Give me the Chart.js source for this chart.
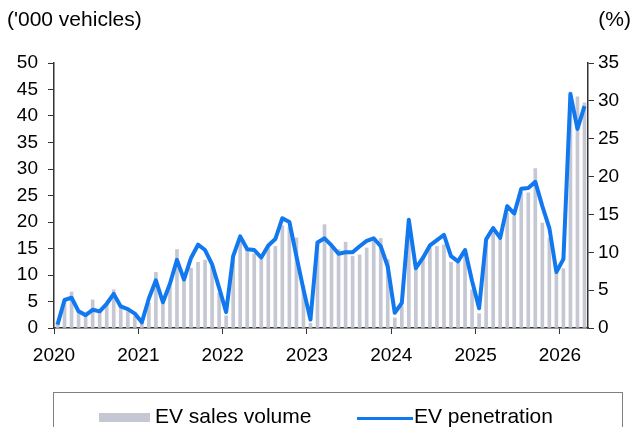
<!DOCTYPE html>
<html>
<head>
<meta charset="utf-8">
<script src="https://cdn.jsdelivr.net/npm/chart.js@4.4.0/dist/chart.umd.min.js"></script>
<style>
  body { margin: 0; overflow: hidden; background: #fff; }
  #wrap { position: relative; width: 634px; height: 427px; }
  #legend { position: absolute; left: 53px; top: 392px; width: 568px; height: 60px;
            border: 1px solid #808080; font: 21px "Liberation Sans", Arial, sans-serif; color: #000; }
  #legend span { position: absolute; }
</style>
</head>
<body>
<div id="wrap">
  <canvas id="evChart" width="634" height="427"></canvas>
  <div id="legend">
    <span style="left:45px; top:20px; width:51px; height:9px; background:#c5c7d3"></span>
    <span style="left:101px; top:11px;">EV sales volume</span>
    <span style="left:303px; top:24px; width:56px; height:3px; background:#1178ef"></span>
    <span style="left:360px; top:11px;">EV penetration</span>
  </div>
</div>
<script>
let CHART = document.getElementById("evChart");

// year labels, one tick every 12 months starting Jan 2020
let yearTicks = ['2020', '2021', '2022', '2023', '2024', '2025', '2026'];

// monthly EV sales ('000 vehicles), Jan 2020 - Apr 2026
let salesVolume = [
    1.0, 5.3, 6.8, 3.1, 2.5, 5.3, 3.3, 4.6, 7.2, 3.8, 3.1, 2.2,
    0.9, 4.7, 10.5, 4.7, 7.9, 14.8, 9.4, 11.3, 12.4, 12.8, 11.6, 6.6,
    2.3, 12.9, 16.5, 14.8, 14.0, 12.9, 15.4, 15.4, 19.3, 19.0, 17.0, 8.0,
    0.9, 15.7, 19.5, 15.7, 14.8, 16.2, 13.5, 13.8, 15.1, 16.7, 16.9, 12.9,
    1.9, 4.1, 17.3, 11.6, 13.2, 15.1, 15.4, 15.7, 12.4, 12.3, 14.2, 7.2,
    2.7, 16.0, 18.0, 16.8, 21.7, 21.1, 25.6, 25.5, 30.1, 19.8, 17.0, 10.4,
    11.2, 44.5, 43.6, 42.5
];

// EV penetration (%)
let penetration = [
    0.45, 3.7, 4.0, 2.2, 1.7, 2.4, 2.2, 3.2, 4.5, 2.85, 2.5, 1.9,
    0.75, 3.9, 6.3, 3.4, 5.85, 9.0, 6.4, 9.25, 11.0, 10.3, 8.4, 5.3,
    2.1, 9.5, 12.1, 10.4, 10.3, 9.3, 10.9, 11.75, 14.5, 14.0, 9.5, 5.1,
    1.1, 11.3, 11.85, 10.9, 9.8, 10.0, 10.0, 10.8, 11.5, 11.85, 10.8, 8.1,
    2.0, 3.3, 14.3, 7.9, 9.25, 10.9, 11.6, 12.3, 9.5, 8.8, 10.3, 6.2,
    2.6, 11.7, 13.2, 11.9, 16.1, 15.1, 18.4, 18.5, 19.3, 16.1, 13.2, 7.4,
    9.1, 30.9, 26.3, 29.3
];

let FONT = '"Liberation Sans", Arial, sans-serif';
Chart.defaults.font.family = FONT;
Chart.defaults.font.size = 19;
Chart.defaults.color = '#000';

let unitLabels = {
    id: 'unitLabels',
    afterDraw(chart) {
        let ctx = chart.ctx;
        ctx.save();
        ctx.font = '21px ' + FONT;
        ctx.fillStyle = '#000';
        ctx.textBaseline = 'middle';
        ctx.textAlign = 'left';
        ctx.fillText("('000 vehicles)", 7, 20);
        ctx.textAlign = 'right';
        ctx.fillText('(%)', 631, 20);
        ctx.restore();
    }
};

let data = {
    type: 'bar',
    data: {
        datasets: [
            {
                type: 'line',
                label: 'EV penetration',
                data: penetration.map((v, i) => ({ x: i + 0.5, y: v })),
                yAxisID: 'y1',
                borderColor: '#1178ef',
                borderWidth: 4,
                pointRadius: 0,
                tension: 0,
                borderJoinStyle: 'round',
                order: 0
            },
            {
                type: 'bar',
                label: 'EV sales volume',
                data: salesVolume.map((v, i) => ({ x: i + 0.5, y: v })),
                yAxisID: 'y',
                backgroundColor: '#c5c7d3',
                barThickness: 3,
                order: 1
            }
        ]
    },
    options: {
        responsive: false,
        animation: false,
        devicePixelRatio: 1,
        layout: { padding: { top: 63, left: 0, right: 0, bottom: 0 } },
        plugins: { legend: { display: false }, tooltip: { enabled: false } },
        scales: {
            x: {
                type: 'linear',
                min: 0,
                max: 76,
                offset: false,
                afterBuildTicks: s => { s.ticks = yearTicks.map((y, k) => ({ value: k * 12 })); },
                afterFit: s => { s.height = 99; },
                ticks: {
                    callback: v => yearTicks[v / 12],
                    autoSkip: false,
                    maxRotation: 0,
                    padding: 10
                },
                grid: { offset: false, drawOnChartArea: false, tickLength: 6, color: '#333' },
                border: { color: '#333', width: 1.5 }
            },
            y: {
                position: 'left',
                min: 0,
                max: 50,
                afterFit: s => { s.width = 54; },
                ticks: { stepSize: 5, padding: 10 },
                grid: { drawOnChartArea: false, tickLength: 6, color: '#333' },
                border: { color: '#333', width: 1.5 }
            },
            y1: {
                position: 'right',
                min: 0,
                max: 35,
                afterFit: s => { s.width = 46; },
                ticks: { stepSize: 5, padding: 4 },
                grid: { drawOnChartArea: false, tickLength: 6, color: '#333' },
                border: { color: '#333', width: 1.5 }
            }
        }
    },
    plugins: [unitLabels]
};

new Chart(CHART, data);
</script>
</body>
</html>
